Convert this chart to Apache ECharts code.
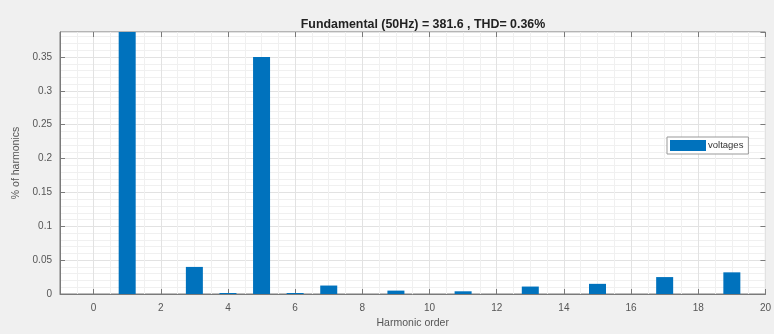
<!DOCTYPE html>
<html><head><meta charset="utf-8">
<script src="https://cdn.jsdelivr.net/npm/echarts@6/dist/echarts.min.js"></script>
<style>html,body{margin:0;padding:0;background:#f0f0f0}#c{width:774px;height:334px}</style>
</head><body><div id="c"></div>
<script>
const harmonicOrders = [0,1,2,3,4,5,6,7,8,9,10,11,12,13,14,15,16,17,18,19];
const voltages = [0,100,0,0.04,0.0015,0.35,0.0015,0.0125,0,0.005,0,0.004,0,0.011,0,0.015,0,0.025,0,0.032];
const titleText = 'Fundamental (50Hz) = 381.6 , THD= 0.36%';
const seriesName = 'voltages';

const chart = echarts.init(document.getElementById('c'));
const axisCol = '#7a7a7a';
const gridMajor = '#e2e2e2';
const gridMinor = '#f0f0f0';
const font = 'Liberation Sans, Arial, sans-serif';
chart.setOption({
  animation: false,
  backgroundColor: '#f0f0f0',
  title: {text: titleText, left: 418, top: 14, textAlign: 'center',
    textStyle: {fontSize: 12.4, fontWeight: 'bold', color: '#222', fontFamily: font}},
  legend: {data: [seriesName], left: 667, top: 137, itemWidth: 36, itemHeight: 11, itemGap: 2,
    padding: [3, 5, 3, 3], backgroundColor: '#fff', borderColor: '#999', borderWidth: 1, borderRadius: 0,
    icon: 'rect', textStyle: {fontSize: 9.5, color: '#333', fontFamily: font, padding: [0,0,0,-3]}},
  grid: {left: 60, right: 1, top: 32, bottom: 38, show: true, backgroundColor: '#fff', borderColor: axisCol, borderWidth: 1},
  xAxis: [{
    type: 'value', min: -1, max: 20, splitNumber: 10,
    name: 'Harmonic order', nameLocation: 'middle', nameGap: 24,
    nameTextStyle: {fontSize: 10.5, color: '#555', fontFamily: font},
    axisLine: {show: true, onZero: false, lineStyle: {color: axisCol}},
    axisTick: {show: true, inside: true, length: 5, lineStyle: {color: axisCol}},
    axisLabel: {fontSize: 10, color: '#555', margin: 9, fontFamily: font,
      showMinLabel: false, showMaxLabel: true,
      formatter: v => (Math.round(v) % 2 === 0 ? String(v) : '')},
    splitLine: {show: true, lineStyle: {color: gridMajor}},
    minorTick: {show: false, splitNumber: 4},
    minorSplitLine: {show: true, lineStyle: {color: gridMinor}}
  },{
    type: 'value', min: -1, max: 20, splitNumber: 10, position: 'top',
    axisLine: {show: false, onZero: false}, axisTick: {show: true, inside: true, length: 5, lineStyle: {color: axisCol}},
    axisLabel: {show: false}, splitLine: {show: false}
  }],
  yAxis: [{
    type: 'value', min: 0, max: 0.387, interval: 0.05,
    name: '% of harmonics', nameLocation: 'middle', nameGap: 37, nameRotate: 90,
    nameTextStyle: {fontSize: 10.5, color: '#555', fontFamily: font},
    axisLine: {show: true, onZero: false, lineStyle: {color: axisCol}},
    axisTick: {show: true, inside: true, length: 5, lineStyle: {color: axisCol}},
    axisLabel: {fontSize: 10, color: '#555', margin: 8, fontFamily: font, showMaxLabel: false,
      formatter: v => (Math.round(v*100)/100).toString()},
    splitLine: {show: true, lineStyle: {color: gridMajor}},
    minorTick: {show: false, splitNumber: 5},
    minorSplitLine: {show: true, lineStyle: {color: gridMinor}}
  },{
    type: 'value', min: 0, max: 0.387, interval: 0.05, position: 'right',
    axisLine: {show: false, onZero: false}, axisTick: {show: true, inside: true, length: 5, lineStyle: {color: axisCol}},
    axisLabel: {show: false}, splitLine: {show: false}
  }],
  series: [{
    name: seriesName, type: 'bar', barWidth: 17, clip: true,
    itemStyle: {color: '#0072BD', borderWidth: 0},
    data: harmonicOrders.map((h, i) => [h, voltages[i]])
  }]
});
</script></body></html>
